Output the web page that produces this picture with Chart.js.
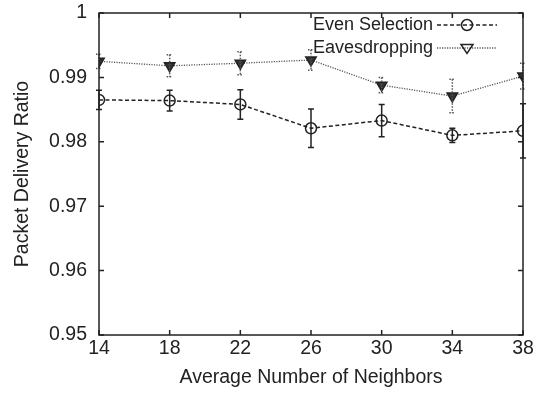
<!DOCTYPE html>
<html>
<head>
<meta charset="utf-8">
<script src="https://cdn.jsdelivr.net/npm/chart.js@4/dist/chart.umd.min.js"></script>
<style>
  html, body { margin: 0; padding: 0; background: #fff; }
  #wrap { width: 537px; height: 401px; }
</style>
</head>
<body>
<div id="wrap"><canvas id="pdr" width="537" height="401"></canvas></div>
<script>
const neighbors = [14, 18, 22, 26, 30, 34, 38];
const evenSelection = [0.9865, 0.9864, 0.9858, 0.9821, 0.9833, 0.9810, 0.9817];
const evenSelectionErr = [0.0015, 0.0016, 0.0023, 0.0030, 0.0025, 0.0011, 0.0042];
const eavesdropping = [0.9925, 0.9918, 0.9922, 0.9927, 0.9888, 0.9871, 0.9902];
const eavesdroppingErr = [0.0011, 0.0017, 0.0018, 0.0016, 0.0012, 0.0026, 0.0020];
const yTicks = [0.95, 0.96, 0.97, 0.98, 0.99, 1];
const seriesNames = ["Even Selection", "Eavesdropping"];

const ink = "#222";
const fontFamily = "'Liberation Sans', Arial, sans-serif";
const axisFont = { family: fontFamily, size: 19.5 };

const toPoints = (vals) => vals.map((v, i) => ({ x: neighbors[i], y: v }));

// vertical error bars with small caps, dotted for the eavesdropping series
const errorBars = {
  id: "errorBars",
  afterDatasetsDraw(chart) {
    const ctx = chart.ctx;
    const y = chart.scales.y;
    chart.data.datasets.forEach((ds, di) => {
      const meta = chart.getDatasetMeta(di);
      ctx.save();
      ctx.strokeStyle = ds.borderColor;
      ctx.lineWidth = 1.5;
      ctx.setLineDash(ds.errDash);
      meta.data.forEach((pt, i) => {
        const v = ds.data[i].y, e = ds.errors[i];
        const top = y.getPixelForValue(v + e);
        const bot = y.getPixelForValue(v - e);
        ctx.beginPath();
        ctx.moveTo(pt.x, top); ctx.lineTo(pt.x, bot);
        ctx.moveTo(pt.x - 3, top); ctx.lineTo(pt.x + 3, top);
        ctx.moveTo(pt.x - 3, bot); ctx.lineTo(pt.x + 3, bot);
        ctx.stroke();
      });
      ctx.restore();
    });
  }
};

// gnuplot style box with inward ticks on all four sides
const frame = {
  id: "frame",
  afterDraw(chart) {
    const { ctx, chartArea: a, scales } = chart;
    ctx.save();
    ctx.strokeStyle = ink;
    ctx.lineWidth = 1.5;
    ctx.strokeRect(a.left, a.top, a.right - a.left, a.bottom - a.top);
    ctx.beginPath();
    scales.x.ticks.forEach(t => {
      const px = scales.x.getPixelForValue(t.value);
      ctx.moveTo(px, a.bottom); ctx.lineTo(px, a.bottom - 5);
      ctx.moveTo(px, a.top); ctx.lineTo(px, a.top + 5);
    });
    scales.y.ticks.forEach(t => {
      const py = scales.y.getPixelForValue(t.value);
      ctx.moveTo(a.left, py); ctx.lineTo(a.left + 5, py);
      ctx.moveTo(a.right, py); ctx.lineTo(a.right - 5, py);
    });
    ctx.stroke();
    ctx.restore();
  }
};

function drawMarker(ctx, ds, x, y) {
  ctx.save();
  ctx.strokeStyle = ds.pointBorderColor;
  ctx.lineWidth = 1.5;
  ctx.setLineDash([]);
  if (ds.pointStyle === "circle") {
    ctx.beginPath();
    ctx.arc(x, y, ds.pointRadius, 0, Math.PI * 2);
    ctx.stroke();
  } else {
    const r = ds.pointRadius;
    ctx.beginPath();
    ctx.moveTo(x - r, y - r * 0.6);
    ctx.lineTo(x + r, y - r * 0.6);
    ctx.lineTo(x, y + r * 0.9);
    ctx.closePath();
    ctx.stroke();
  }
  ctx.restore();
}

// key in the upper right: label, then line sample with marker
const keyBox = {
  id: "keyBox",
  afterDraw(chart) {
    const ctx = chart.ctx;
    const textRight = 433, lineL = 437, lineR = 497;
    const rows = [25, 48];
    chart.data.datasets.forEach((ds, i) => {
      const yy = rows[i];
      ctx.save();
      ctx.font = "18px " + fontFamily;
      ctx.fillStyle = ink;
      ctx.textAlign = "right";
      ctx.textBaseline = "middle";
      ctx.fillText(ds.label, textRight, yy);
      ctx.strokeStyle = ds.borderColor;
      ctx.lineWidth = ds.borderWidth;
      ctx.setLineDash(ds.borderDash);
      ctx.beginPath();
      ctx.moveTo(lineL, yy); ctx.lineTo(lineR, yy);
      ctx.stroke();
      ctx.restore();
      drawMarker(ctx, ds, (lineL + lineR) / 2, yy);
    });
  }
};

new Chart(document.getElementById("pdr"), {
  type: "line",
  data: {
    datasets: [
      {
        label: seriesNames[0],
        data: toPoints(evenSelection),
        errors: evenSelectionErr,
        errDash: [],
        borderColor: ink,
        borderWidth: 1.5,
        borderDash: [4, 2.5],
        pointStyle: "circle",
        pointRadius: 5.5,
        pointBorderWidth: 1.5,
        pointBackgroundColor: "rgba(0,0,0,0)",
        pointBorderColor: ink
      },
      {
        label: seriesNames[1],
        data: toPoints(eavesdropping),
        errors: eavesdroppingErr,
        errDash: [1.5, 1.5],
        borderColor: "#555",
        borderWidth: 1.3,
        borderDash: [1.2, 1.3],
        pointStyle: "triangle",
        rotation: 180,
        pointRadius: 6,
        pointBorderWidth: 1.5,
        pointBackgroundColor: "#333",
        pointBorderColor: ink
      }
    ]
  },
  options: {
    responsive: false,
    animation: false,
    layout: { padding: { left: 0, right: 14, top: 13, bottom: 0 } },
    plugins: { legend: { display: false }, tooltip: { enabled: false } },
    scales: {
      x: {
        type: "linear",
        min: 14, max: 38,
        afterFit: (s) => { s.height = 66; s.paddingLeft = 0; s.paddingRight = 0; },
        ticks: { stepSize: 4, color: ink, padding: 2, font: axisFont },
        grid: { display: false, drawTicks: false },
        border: { display: false },
        title: { display: true, text: "Average Number of Neighbors", color: ink,
                 padding: { top: 0, bottom: 12 }, font: axisFont }
      },
      y: {
        type: "linear",
        min: 0.95, max: 1,
        afterFit: (s) => { s.width = 99; s.paddingTop = 0; s.paddingBottom = 0; },
        afterBuildTicks: (s) => { s.ticks = yTicks.map(v => ({ value: v })); },
        ticks: { color: ink, padding: 12, font: axisFont,
                 callback: (v) => String(+v.toFixed(2)) },
        grid: { display: false, drawTicks: false },
        border: { display: false },
        title: { display: true, text: "Packet Delivery Ratio", color: ink,
                 padding: { top: 11, bottom: 0 }, font: axisFont }
      }
    }
  },
  plugins: [errorBars, frame, keyBox]
});
</script>
</body>
</html>
